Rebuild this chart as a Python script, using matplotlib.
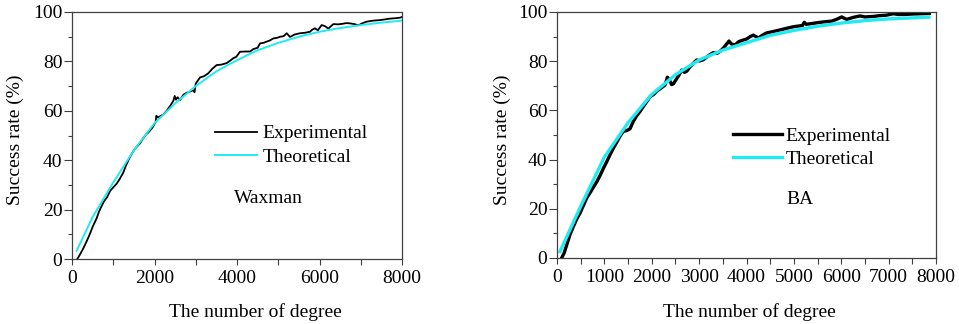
import matplotlib
matplotlib.use("Agg")
import matplotlib.pyplot as plt
from matplotlib.ticker import MultipleLocator

plt.rcParams['font.family'] = ['Liberation Serif', 'DejaVu Serif']

# ---- Waxman (left panel) ----
wax_exp_x = [129, 200, 280, 356, 430, 500, 598, 650, 719, 780, 850, 921, 1000, 1083,
             1160, 1244, 1300, 1380, 1446, 1520, 1600, 1648, 1720, 1800, 1850, 1950,
             2028, 2045, 2080, 2140, 2220, 2295, 2380, 2456, 2490, 2520, 2560, 2618,
             2700, 2780, 2860, 2941, 2970, 3000, 3103, 3200, 3305, 3400, 3507, 3620,
             3750, 3850, 3911, 3980, 4073, 4200, 4315, 4400, 4500, 4558, 4640, 4719,
             4800, 4880, 4962, 5050, 5130, 5204, 5285, 5400, 5527, 5650, 5770, 5820,
             5890, 5960, 6052, 6130, 6214, 6335, 6450, 6550, 6650, 6739, 6850, 6941,
             7050, 7144, 7300, 7450, 7548, 7700, 7850, 7952, 8000]
wax_exp_y = [0, 2, 4.5, 7.2, 10, 13, 16.5, 19, 21.5, 23.5, 25, 27.5, 29, 30.5,
             32.5, 35, 37.5, 40.5, 42.5, 44.5, 46, 46.8, 48.8, 50.5, 51.2, 53.2,
             55.5, 58, 57.3, 57.8, 58.6, 60, 62, 64, 66, 64.5, 65.5, 64.3,
             66.5, 67.3, 67.8, 68.3, 67.5, 71, 73.5, 74, 75.2, 77, 78.5, 78.7,
             79.3, 80.5, 81.3, 81.8, 83.9, 84, 84, 85, 85.5, 87.3, 87.5, 88,
             88.5, 89.3, 89.5, 90, 90.2, 91.4, 89.9, 90.9, 91.4, 91.6, 92, 92.8,
             93.4, 92.6, 94.7, 94.3, 93.3, 95.1, 95, 95.2, 95.5, 95.4, 95.1, 94.6,
             95.5, 96.1, 96.5, 96.7, 96.9, 97.3, 97.5, 97.7, 98]
wax_th_x = [113, 500, 1000, 1500, 2000, 2500, 3000, 3500, 4000, 4500, 5000, 5500,
            6000, 6500, 7000, 7500, 8000]
wax_th_y = [3.4, 17, 31, 44, 55, 63, 70, 76, 80.5, 84.5, 87.5, 90, 92, 93.5, 94.7,
            95.7, 96.5]

# ---- BA (right panel) ----
ba_exp_x = [98, 150, 200, 274, 350, 420, 485, 560, 630, 697, 760, 840, 908, 980,
            1049, 1120, 1189, 1260, 1330, 1400, 1470, 1541, 1610, 1682, 1750, 1820,
            1893, 1960, 2040, 2104, 2190, 2280, 2330, 2370, 2420, 2456, 2530, 2580,
            2632, 2690, 2737, 2800, 2870, 2949, 3010, 3090, 3180, 3240, 3300, 3380,
            3441, 3520, 3590, 3630, 3680, 3758, 3840, 3933, 4000, 4080, 4144, 4200,
            4250, 4330, 4426, 4550, 4707, 4850, 4989, 5100, 5180, 5220, 5260, 5411,
            5550, 5692, 5800, 5900, 6009, 6060, 6115, 6250, 6396, 6500, 6678, 6800,
            6950, 7100, 7200, 7350, 7522, 7700, 7860]
ba_exp_y = [0, 2, 5, 9.5, 13, 16, 18.2, 21.5, 24.5, 26.5, 28.5, 31, 33.5, 36.5,
            39.1, 42, 44.6, 47, 49.5, 51.5, 51.8, 52.5, 55.5, 57.8, 59.5, 61.5,
            63.5, 65.5, 66.5, 67.8, 69, 70.3, 73.5, 72.5, 70.5, 70.8, 73, 74.5,
            76.4, 75.5, 75.9, 77.5, 79, 80.5, 80.1, 80.6, 82, 82.8, 83.5, 83.2,
            84, 85.5, 87.2, 88.2, 87, 86.6, 88, 88.6, 89, 90, 90.6, 90,
            89.4, 90.5, 91.5, 92, 92.7, 93.4, 94, 94.3, 94.5, 95.8, 95, 95.4,
            95.8, 96.1, 96.3, 97, 98, 97.5, 97, 97.8, 98.4, 98, 98.2, 98.5,
            98.7, 99.3, 99, 99, 99.2, 99.3, 99.4]
ba_th_x = [63, 500, 1000, 1500, 2000, 2500, 3000, 3500, 4000, 4500, 5000, 5500,
           6000, 6500, 7000, 7500, 7850]
ba_th_y = [2.6, 21, 41, 55, 66.5, 74.5, 80.5, 84.5, 87.5, 90.5, 92.5, 94.2, 95.5,
           96.5, 97.2, 97.6, 97.9]

xlabel = "The number of degree"
ylabel = "Success rate (%)"
labels = ["Experimental", "Theoretical"]

CYAN = '#22EAF2'
FS = 14

fig = plt.figure(figsize=(9.59, 3.24), dpi=100)
axL = fig.add_axes([72/959, 1-259/324, 330/959, 247/324])
axR = fig.add_axes([557/959, 1-258/324, 379/959, 246/324])

def style(ax, major, minor):
    ax.set_xlim(0, 8000)
    ax.set_ylim(0, 100)
    ax.xaxis.set_major_locator(MultipleLocator(major))
    ax.xaxis.set_minor_locator(MultipleLocator(minor))
    ax.yaxis.set_major_locator(MultipleLocator(20))
    ax.yaxis.set_minor_locator(MultipleLocator(10))
    for s in ax.spines.values():
        s.set_color('#404040')
        s.set_linewidth(0.9)
    ax.tick_params(axis='both', which='both', direction='out', colors='#404040',
                   labelcolor='black', labelsize=FS, width=0.8)
    ax.tick_params(axis='y', which='major', length=6, pad=1)
    ax.tick_params(axis='y', which='minor', length=3)
    ax.tick_params(axis='x', which='major', length=4, pad=4)
    ax.tick_params(axis='x', which='minor', length=4)

style(axL, 2000, 1000)
style(axR, 1000, 500)

# left
axL.plot(wax_exp_x, wax_exp_y, color='black', lw=1.3, label=labels[0])
axL.plot(wax_th_x, wax_th_y, color=CYAN, lw=1.4, label=labels[1])
axL.legend(loc='upper left', bbox_to_anchor=(0.432, 0.543), frameon=False,
           fontsize=FS, handlelength=2.2, handletextpad=0.25,
           labelspacing=0.3, borderaxespad=0, borderpad=0)
axL.text(4750, 24.3, "Waxman", fontsize=FS, ha='center', va='center')
axL.set_xlabel(xlabel, fontsize=FS)
axL.set_ylabel(ylabel, fontsize=FS)
axL.xaxis.set_label_coords(0.557, -0.215)
axL.yaxis.set_label_coords(-0.173, 0.482)
axL.xaxis.label.set_va('center')
axL.yaxis.label.set_va('center')

# right
axR.plot(ba_exp_x, ba_exp_y, color='black', lw=2.4, label=labels[0])
axR.plot(ba_th_x, ba_th_y, color=CYAN, lw=2.4, label=labels[1])
axR.legend(loc='upper left', bbox_to_anchor=(0.465, 0.532), frameon=False,
           fontsize=FS, handlelength=2.5, handletextpad=0.2,
           labelspacing=0.3, borderaxespad=0, borderpad=0)
axR.text(4834, 23.6, "BA", fontsize=FS, ha='left', va='center')
axR.set_xlabel(xlabel, fontsize=FS)
axR.set_ylabel(ylabel, fontsize=FS)
axR.xaxis.set_label_coords(0.507, -0.22)
axR.yaxis.set_label_coords(-0.145, 0.48)
axR.xaxis.label.set_va('center')
axR.yaxis.label.set_va('center')

fig.savefig("out.png", dpi=100)
